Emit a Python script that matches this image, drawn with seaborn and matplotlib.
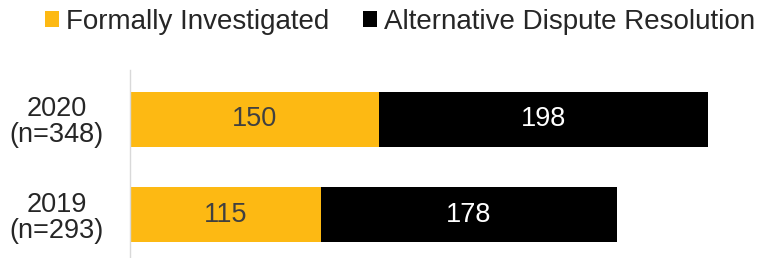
import numpy as np
import pandas as pd
import seaborn as sns
import matplotlib.pyplot as plt
from matplotlib.patches import Patch

years = ["2020\n(n=348)", "2019\n(n=293)"]
formal = [150, 115]
adr = [198, 178]
series_names = ["Formally Investigated", "Alternative Dispute Resolution"]
colors = ["#FDB913", "#000000"]

df = pd.DataFrame({"year": years, "formal": formal, "adr": adr})
df["total"] = df["formal"] + df["adr"]

sns.set_theme(style="white")
plt.rcParams['font.family'] = ['Liberation Sans', 'DejaVu Sans']

fig = plt.figure(figsize=(7.62, 2.58), dpi=100)
ax = fig.add_axes([130 / 762, 0, 624 / 762, 188 / 258])

# stacked: total bar in black first, formal bar in yellow over it
sns.barplot(data=df, y="year", x="total", color=colors[1], orient="h",
            width=0.576, ax=ax, saturation=1, linewidth=0)
sns.barplot(data=df, y="year", x="formal", color=colors[0], orient="h",
            width=0.576, ax=ax, saturation=1, linewidth=0)

ax.set_xlim(0, 624 / 1.661)
ax.set_ylim(1.451, -0.518)
ax.set_xlabel("")
ax.set_ylabel("")
ax.set_xticks([])
for s in ["top", "right", "bottom"]:
    ax.spines[s].set_visible(False)
ax.spines["left"].set_color("#d9d9d9")
ax.spines["left"].set_linewidth(1)
ax.tick_params(axis="y", length=0, pad=19, labelsize=19.5, labelcolor="#262626")
for lbl in ax.get_yticklabels():
    lbl.set_multialignment("center")
    lbl.set_linespacing(1.0)

for i in range(len(years)):
    ax.text(formal[i] / 2, i, str(formal[i]), ha="center", va="center",
            fontsize=19.5, color="#404040")
    ax.text(formal[i] + adr[i] / 2, i, str(adr[i]), ha="center", va="center",
            fontsize=19.5, color="white")

handles = [Patch(facecolor=c, edgecolor="none", label=n) for c, n in zip(colors, series_names)]
fig.legend(handles=handles, loc="center", bbox_to_anchor=(400 / 762, 1 - 22 / 258),
           ncol=2, frameon=False, fontsize=20, handlelength=0.5, handleheight=0.5,
           handletextpad=0.25, columnspacing=1.2, labelcolor="#262626",
           borderpad=0, borderaxespad=0)

fig.savefig("out.png", dpi=100)
